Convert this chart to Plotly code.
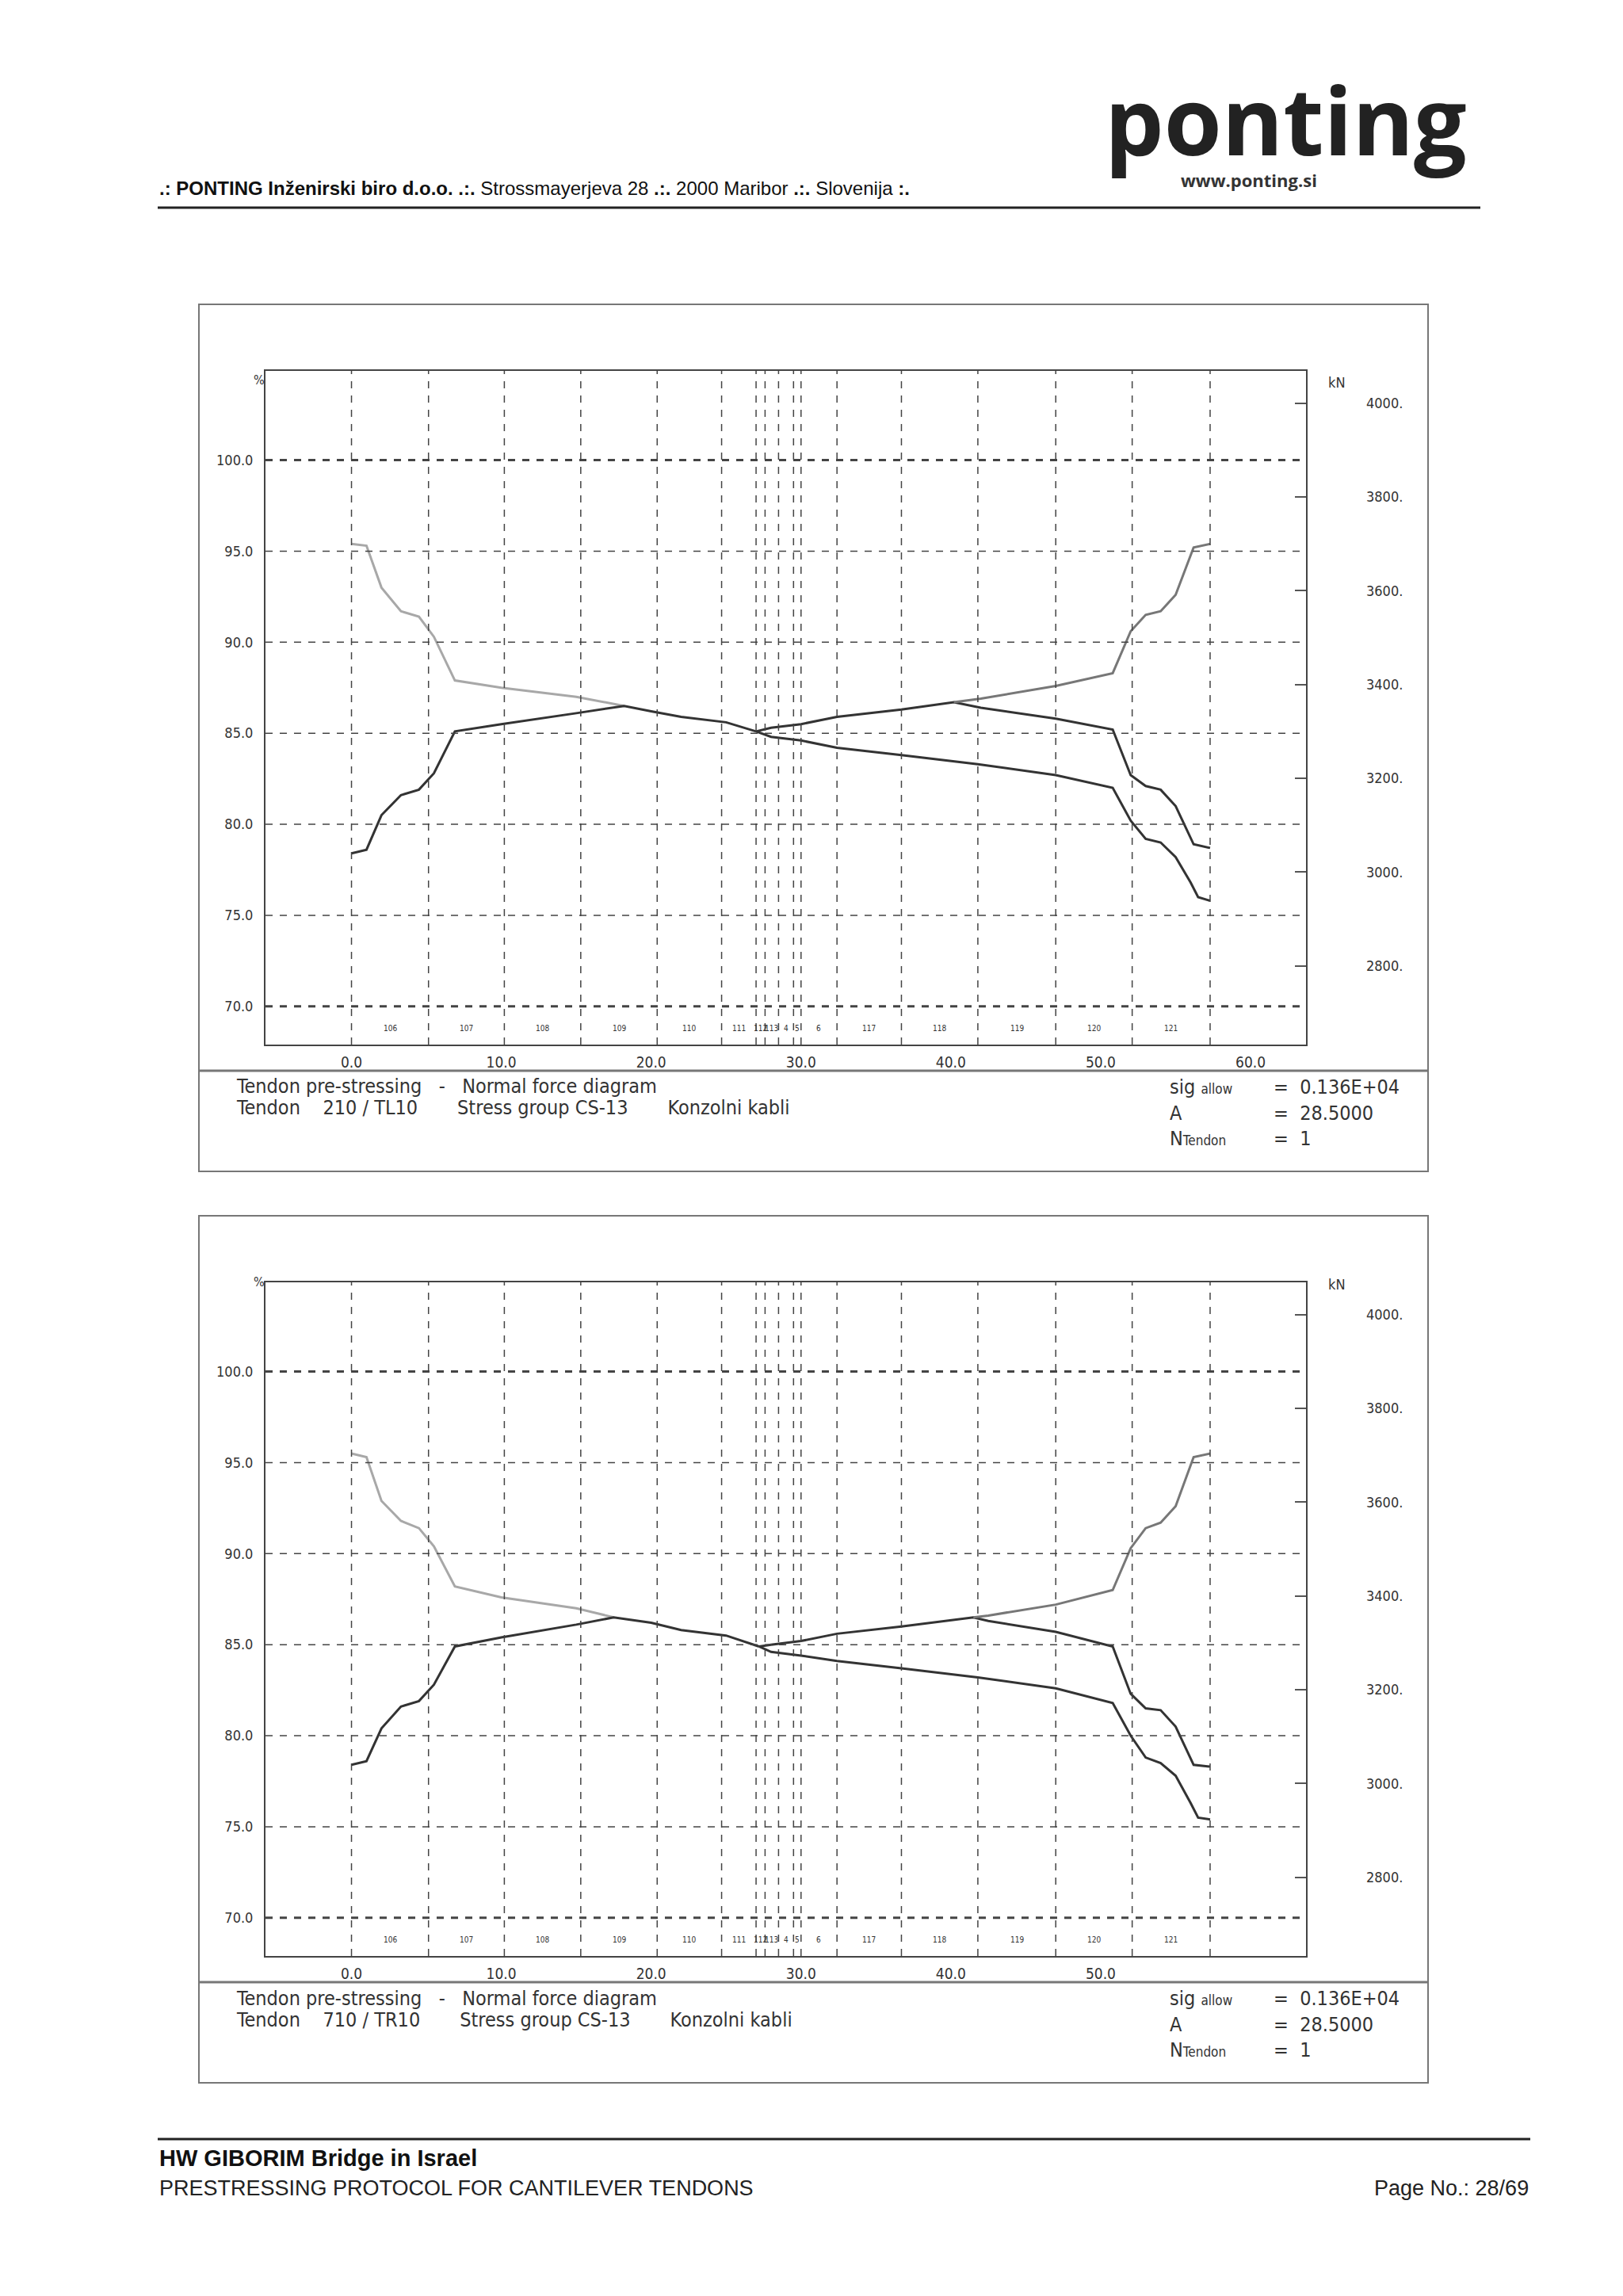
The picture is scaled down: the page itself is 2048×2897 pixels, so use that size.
import plotly.graph_objects as go

W, H = 2048, 2897
FONT = "Liberation Sans Narrow, DejaVu Sans Condensed, sans-serif"

# section boundaries (m) and section names
section_x = [0.0, 5.14, 10.2, 15.3, 20.4, 24.7, 27.0, 27.6, 28.5, 29.5, 30.0, 32.4, 36.7, 41.8, 47.0, 52.1, 57.3]
section_names = ["106", "107", "108", "109", "110", "111", "112", "113", "114", "115", "116",
                 "117", "118", "119", "120", "121"]
x_ticks = [0, 10, 20, 30, 40, 50, 60]
pct_ticks = [70, 75, 80, 85, 90, 95, 100]
kn_ticks = [2800, 3000, 3200, 3400, 3600, 3800, 4000]

# chart 1 : tendon 210 / TL10
c1_upper_left_x = [0.0, 1.0, 2.0, 3.3, 4.5, 5.5, 6.9, 10.0, 15.0, 18.2]
c1_upper_left_y = [95.4, 95.3, 93.0, 91.7, 91.4, 90.3, 87.9, 87.5, 87.0, 86.5]
c1_lower_left_x = [0.0, 1.0, 2.0, 3.3, 4.5, 5.5, 6.9, 10.0, 15.0, 18.2, 20.0, 22.0, 25.0, 27.0]
c1_lower_left_y = [78.4, 78.6, 80.5, 81.6, 81.9, 82.8, 85.1, 85.5, 86.1, 86.5, 86.2, 85.9, 85.6, 85.1]
c1_fall_x = [27.0, 28.0, 30.0, 32.4, 36.7, 41.8, 47.0, 50.8, 52.0, 53.0, 54.0, 55.0, 56.0, 56.5, 57.3]
c1_fall_y = [85.1, 84.8, 84.6, 84.2, 83.8, 83.3, 82.7, 82.0, 80.2, 79.2, 79.0, 78.2, 76.8, 76.0, 75.8]
c1_rise_x = [27.0, 28.0, 30.0, 32.4, 36.7, 40.2, 42.0, 47.0, 50.8, 52.0, 53.0, 54.0, 55.0, 56.2, 57.3]
c1_rise_y = [85.1, 85.3, 85.5, 85.9, 86.3, 86.7, 86.4, 85.8, 85.2, 82.7, 82.1, 81.9, 81.0, 78.9, 78.7]
c1_upper_right_x = [40.2, 42.0, 47.0, 50.8, 52.0, 53.0, 54.0, 55.0, 56.2, 57.3]
c1_upper_right_y = [86.7, 86.9, 87.6, 88.3, 90.6, 91.5, 91.7, 92.6, 95.2, 95.4]

# chart 2 : tendon 710 / TR10
c2_upper_left_x = [0.0, 1.0, 2.0, 3.3, 4.5, 5.5, 6.9, 10.0, 15.0, 17.5]
c2_upper_left_y = [95.5, 95.3, 92.9, 91.8, 91.4, 90.4, 88.2, 87.6, 87.0, 86.5]
c2_lower_left_x = [0.0, 1.0, 2.0, 3.3, 4.5, 5.5, 6.9, 10.0, 15.0, 17.5, 20.0, 22.0, 25.0, 27.2]
c2_lower_left_y = [78.4, 78.6, 80.4, 81.6, 81.9, 82.8, 84.9, 85.4, 86.1, 86.5, 86.2, 85.8, 85.5, 84.9]
c2_fall_x = [27.2, 28.0, 30.0, 32.4, 36.7, 41.8, 47.0, 50.8, 52.0, 53.0, 54.0, 55.0, 56.0, 56.5, 57.3]
c2_fall_y = [84.9, 84.6, 84.4, 84.1, 83.7, 83.2, 82.6, 81.8, 80.0, 78.8, 78.5, 77.8, 76.3, 75.5, 75.4]
c2_rise_x = [27.2, 28.0, 30.0, 32.4, 36.7, 41.5, 42.5, 47.0, 50.8, 52.0, 53.0, 54.0, 55.0, 56.2, 57.3]
c2_rise_y = [84.9, 85.0, 85.2, 85.6, 86.0, 86.5, 86.3, 85.7, 84.9, 82.3, 81.5, 81.4, 80.5, 78.4, 78.3]
c2_upper_right_x = [41.5, 42.5, 47.0, 50.8, 52.0, 53.0, 54.0, 55.0, 56.2, 57.3]
c2_upper_right_y = [86.5, 86.6, 87.2, 88.0, 90.3, 91.4, 91.7, 92.6, 95.3, 95.5]

charts = [
    dict(tendon="210 / TL10", off=0, text_off=0, xmax_label=60,
         series=[(c1_upper_left_x, c1_upper_left_y, "#a8a8a8"), (c1_lower_left_x, c1_lower_left_y, "#333333"),
                 (c1_fall_x, c1_fall_y, "#333333"), (c1_rise_x, c1_rise_y, "#333333"),
                 (c1_upper_right_x, c1_upper_right_y, "#777777")]),
    dict(tendon="710 / TR10", off=1150, text_off=1168, xmax_label=50,
         series=[(c2_upper_left_x, c2_upper_left_y, "#a8a8a8"), (c2_lower_left_x, c2_lower_left_y, "#333333"),
                 (c2_fall_x, c2_fall_y, "#333333"), (c2_rise_x, c2_rise_y, "#333333"),
                 (c2_upper_right_x, c2_upper_right_y, "#777777")]),
]

def px(x):
    return x / W

def py(y):
    return 1 - y / H

fig = go.Figure()
shapes, annots = [], []
layout = {}

for i, ch in enumerate(charts):
    o, to = ch["off"], ch["text_off"]
    xa, ya, ya2 = f"x{i+1}" if i else "x", f"y{2*i+1}" if i else "y", f"y{2*i+2}"
    xk, yk, yk2 = "xaxis" + (str(i + 1) if i else ""), "yaxis" + (str(2 * i + 1) if i else ""), "yaxis" + str(2 * i + 2)
    top, bot = 468 + o, 1318 + o
    for sx, sy, col in ch["series"]:
        fig.add_trace(go.Scatter(x=sx, y=sy, mode="lines", line=dict(color=col, width=3),
                                 xaxis=xa, yaxis=ya, showlegend=False, hoverinfo="skip"))
    # invisible trace to attach the kN axis
    fig.add_trace(go.Scatter(x=[None], y=[None], xaxis=xa, yaxis=ya2, showlegend=False))
    xt = [v for v in x_ticks if v <= ch["xmax_label"]]
    layout[xk] = dict(domain=[px(335), px(1648)], range=[-5.74, 63.7], tickvals=xt,
                      ticktext=[f"{v:.1f}" for v in xt], showgrid=False, zeroline=False,
                      showline=True, linecolor="#444", linewidth=2, mirror=True, ticks="",
                      tickfont=dict(family=FONT, size=19, color="#333"), ticklabelstandoff=4,
                      anchor=ya)
    layout[yk] = dict(domain=[py(bot), py(top)], range=[67.9, 104.9], tickvals=pct_ticks,
                      ticktext=[f"{v:.1f}" for v in pct_ticks], showgrid=False, zeroline=False,
                      showline=True, linecolor="#444", linewidth=2, mirror=True, ticks="",
                      tickfont=dict(family=FONT, size=18, color="#333"), ticklabelstandoff=10,
                      anchor=xa)
    layout[yk2] = dict(overlaying=ya, side="right", range=[2632, 4069], tickvals=kn_ticks,
                       ticktext=[f"{v}." for v in kn_ticks], showgrid=False, zeroline=False,
                       ticks="inside", ticklen=14, tickcolor="#555", tickwidth=2,
                       tickfont=dict(family=FONT, size=18, color="#333"), ticklabelstandoff=75,
                       anchor=xa)
    # grid lines
    for v in pct_ticks:
        w = 3 if v in (70, 100) else 1.5
        shapes.append(dict(type="line", xref=xa + " domain", x0=0, x1=1, yref=ya, y0=v, y1=v,
                           line=dict(color="#444", width=w, dash="dash")))
    for v in section_x:
        shapes.append(dict(type="line", xref=xa, x0=v, x1=v, yref=ya + " domain", y0=0, y1=1,
                           line=dict(color="#444", width=1.5, dash="dash")))
    for j, name in enumerate(section_names):
        lab = name if j < 6 or j > 10 else name[-1:] if j > 7 else name
        annots.append(dict(xref=xa, yref=ya, x=(section_x[j] + section_x[j + 1]) / 2, y=68.8,
                           text=lab, showarrow=False, font=dict(family=FONT, size=10, color="#333")))
    # frame and info box
    shapes.append(dict(type="rect", xref="paper", yref="paper", x0=px(251), x1=px(1802),
                       y0=py(1478 + o), y1=py(384 + o), line=dict(color="#777", width=2)))
    shapes.append(dict(type="line", xref="paper", yref="paper", x0=px(251), x1=px(1802),
                       y0=py(1351 + o), y1=py(1351 + o), line=dict(color="#777", width=3)))
    annots.append(dict(xref="paper", yref="paper", x=px(318), y=py(468 + o), text="%", showarrow=False,
                       font=dict(family=FONT, size=16, color="#333")))
    annots.append(dict(xref="paper", yref="paper", x=px(1700), y=py(470 + o), text="kN", showarrow=False,
                       font=dict(family=FONT, size=18, color="#333")))
    tf = dict(family=FONT, size=25, color="#333")
    annots.append(dict(xref="paper", yref="paper", x=px(296), y=py(1370 + to), xanchor="left",
                       text="Tendon pre-stressing   -   Normal force diagram", showarrow=False, font=tf))
    annots.append(dict(xref="paper", yref="paper", x=px(296), y=py(1397 + to), xanchor="left",
                       text=f"Tendon    {ch['tendon']}       Stress group CS-13       Konzolni kabli",
                       showarrow=False, font=tf))
    annots.append(dict(xref="paper", yref="paper", x=px(1474), y=py(1355 + o), xanchor="left",
                       text="sig <span style='font-size:17px'>allow</span><br>A<br>N<span style='font-size:17px'>Tendon</span>",
                       showarrow=False, align="left", font=tf, yanchor="top"))
    annots.append(dict(xref="paper", yref="paper", x=px(1605), y=py(1355 + o), xanchor="left",
                       text="=  0.136E+04<br>=  28.5000<br>=  1", showarrow=False, align="left",
                       font=tf, yanchor="top"))

# page header / footer
annots += [
    dict(xref="paper", yref="paper", x=px(199), y=py(222), xanchor="left", showarrow=False,
         text="<b>.: PONTING Inženirski biro d.o.o. .:.</b> Strossmayerjeva 28 <b>.:.</b> 2000 Maribor <b>.:.</b> Slovenija <b>:.</b>",
         font=dict(family="Liberation Sans Narrow, Arial", size=24, color="#111")),
    dict(xref="paper", yref="paper", x=px(1392), y=py(68), xanchor="left", showarrow=False, text="<b>ponting</b>",
         font=dict(family="Open Sans, Lato, sans-serif", size=118, color="#222")),
    dict(xref="paper", yref="paper", x=px(1488), y=py(210), xanchor="left", showarrow=False, text="<b>www.ponting.si</b>",
         font=dict(family="Open Sans, sans-serif", size=22, color="#333")),
    dict(xref="paper", yref="paper", x=px(199), y=py(2741), xanchor="left", showarrow=False,
         text="<b>HW GIBORIM Bridge in Israel</b>",
         font=dict(family="Liberation Sans Narrow, Arial", size=29, color="#111")),
    dict(xref="paper", yref="paper", x=px(199), y=py(2778), xanchor="left", showarrow=False,
         text="PRESTRESSING PROTOCOL FOR CANTILEVER TENDONS",
         font=dict(family="Liberation Sans Narrow, Arial", size=27, color="#222")),
    dict(xref="paper", yref="paper", x=px(1931), y=py(2778), xanchor="right", showarrow=False,
         text="Page No.: 28/69", font=dict(family="Liberation Sans Narrow, Arial", size=27, color="#222")),
]
shapes += [
    dict(type="line", xref="paper", yref="paper", x0=px(199), x1=px(1868), y0=py(262), y1=py(262),
         line=dict(color="#222", width=3)),
    dict(type="line", xref="paper", yref="paper", x0=px(199), x1=px(1931), y0=py(2699), y1=py(2699),
         line=dict(color="#222", width=3)),
]

fig.update_layout(width=W, height=H, margin=dict(l=0, r=0, t=0, b=0), plot_bgcolor="white",
                  paper_bgcolor="white", shapes=shapes, annotations=annots, **layout)
fig.write_html("out.html", config={"displayModeBar": False},
               post_script="document.body.style.margin='0';")
